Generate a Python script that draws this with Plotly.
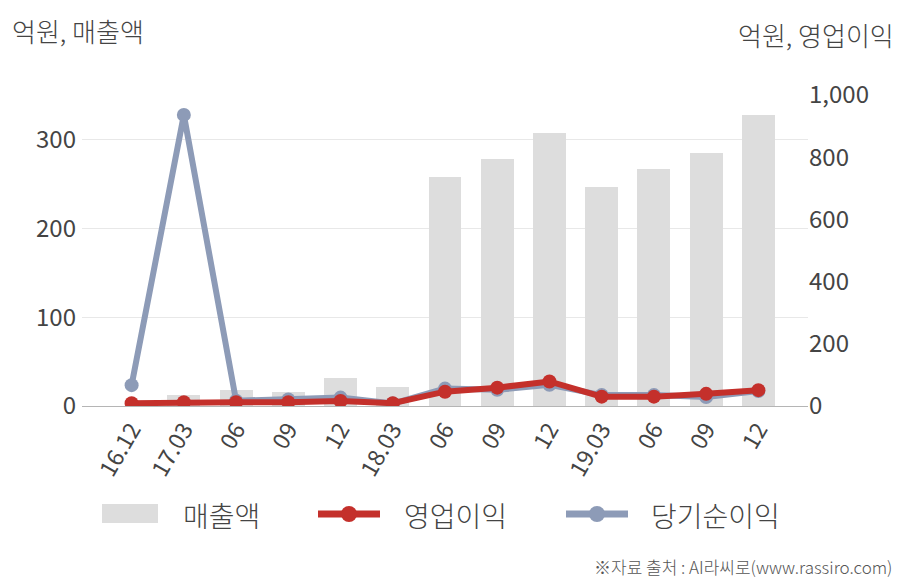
import plotly.graph_objects as go

# ---- data ----
periods = ["16.12", "17.03", "06", "09", "12", "18.03", "06", "09", "12", "19.03", "06", "09", "12"]
sales = [0, 12, 18, 16, 31, 21, 258, 278, 307, 246, 267, 285, 327]          # 매출액 (left axis)
op_profit = [9, 12, 12, 12, 16, 9, 46, 59, 79, 30, 30, 39, 51]              # 영업이익 (right axis)
net_profit = [67, 936, 17, 21, 27, 8, 56, 52, 68, 35, 35, 29, 48]          # 당기순이익 (right axis)

left_ticks = [0, 100, 200, 300]
right_ticks = [0, 200, 400, 600, 800, 1000]

BAR_C = "#DDDDDD"
RED = "#C4302B"
BLUE = "#8D9BB7"
TXT = "#444444"
FONT = "Noto Sans CJK KR"

x_idx = list(range(len(periods)))

fig = go.Figure()
fig.add_trace(go.Bar(x=x_idx, y=sales, name="매출액", marker=dict(color=BAR_C, line=dict(width=0)),
                     width=0.63, yaxis="y", showlegend=False))
fig.add_trace(go.Scatter(x=x_idx, y=net_profit, name="당기순이익", mode="lines+markers",
                         line=dict(color=BLUE, width=6), marker=dict(color=BLUE, size=14),
                         yaxis="y2", showlegend=False))
fig.add_trace(go.Scatter(x=x_idx, y=op_profit, name="영업이익", mode="lines+markers",
                         line=dict(color=RED, width=6), marker=dict(color=RED, size=14),
                         yaxis="y2", showlegend=False))

# plot area in pixels
L, R, T, B = 82, 808, 95, 406
W, H = 908, 580
pw, ph = R - L, B - T


def px(x):
    return (x - L) / pw


def py(y):
    return (B - y) / ph


shapes = []
annotations = []

# manual legend
shapes.append(dict(type="rect", xref="paper", yref="paper", x0=px(102), x1=px(158), y0=py(523), y1=py(504),
                   fillcolor=BAR_C, line=dict(width=0)))
for (x0, x1, col) in [(318, 380, RED), (566, 628, BLUE)]:
    shapes.append(dict(type="line", xref="paper", yref="paper", x0=px(x0), x1=px(x1), y0=py(514), y1=py(514),
                       line=dict(color=col, width=7)))
    cx, r = (x0 + x1) / 2, 8
    shapes.append(dict(type="circle", xref="paper", yref="paper", x0=px(cx - r), x1=px(cx + r),
                       y0=py(514 + r), y1=py(514 - r), fillcolor=col, line=dict(width=0)))
for (xt, txt) in [(181, "매출액"), (402, "영업이익"), (649, "당기순이익")]:
    annotations.append(dict(text=txt, xref="paper", yref="paper", x=px(xt), y=py(515), xanchor="left",
                            yanchor="middle", showarrow=False,
                            font=dict(size=28, color=TXT, family=FONT, weight=300)))

# axis titles
annotations.append(dict(text="억원, 매출액", xref="paper", yref="paper", x=px(10), y=py(30), xanchor="left",
                        yanchor="middle", showarrow=False,
                        font=dict(size=26, color=TXT, family=FONT, weight=300)))
annotations.append(dict(text="억원, 영업이익", xref="paper", yref="paper", x=px(896), y=py(35), xanchor="right",
                        yanchor="middle", showarrow=False,
                        font=dict(size=26, color=TXT, family=FONT, weight=300)))
# source
annotations.append(dict(text="※자료 출처 : AI라씨로(www.rassiro.com)", xref="paper", yref="paper", x=px(894),
                        y=py(566), xanchor="right", yanchor="middle", showarrow=False,
                        font=dict(size=17, color="#555555", family=FONT, weight=300)))

fig.update_layout(
    width=W, height=H,
    margin=dict(l=L, r=W - R, t=T, b=H - B),
    paper_bgcolor="white", plot_bgcolor="white",
    font=dict(family=FONT, color=TXT),
    showlegend=False,
    bargap=0,
    xaxis=dict(range=[-0.95, 12.95], tickmode="array", tickvals=x_idx, ticktext=periods, tickangle=-60,
               tickfont=dict(size=23, color=TXT), showgrid=False, zeroline=False, showline=True,
               linecolor="#B5B5B5", linewidth=1, ticks=""),
    yaxis=dict(range=[0, 350], tickmode="array", tickvals=left_ticks,
               tickfont=dict(size=24, color=TXT), ticklabelstandoff=5,
               showgrid=True, gridcolor="#E8E8E8", gridwidth=1, zeroline=False, showline=False, ticks=""),
    yaxis2=dict(range=[0, 1000], tickmode="array", tickvals=right_ticks, separatethousands=True,
                tickfont=dict(size=24, color=TXT), overlaying="y", side="right", showgrid=False,
                zeroline=False, showline=False, ticks=""),
    shapes=shapes,
    annotations=annotations,
)

fig.write_html("out.html")
